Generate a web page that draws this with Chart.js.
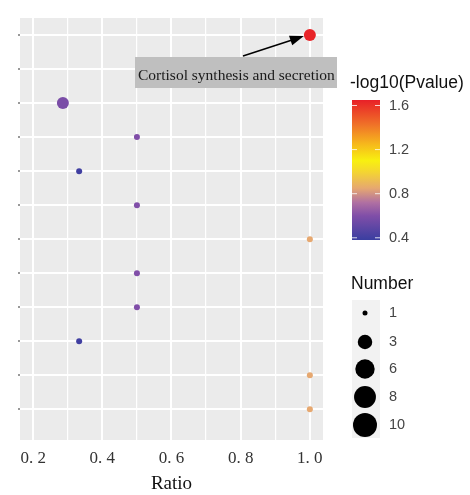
<!DOCTYPE html>
<html>
<head>
<meta charset="utf-8">
<script src="https://cdn.jsdelivr.net/npm/chart.js@4.4.1/dist/chart.umd.min.js"></script>
<style>
  html, body { margin: 0; padding: 0; background: #fff; }
  #wrap { width: 470px; height: 495px; }
</style>
</head>
<body>
<div id="wrap"><canvas id="c"></canvas></div>
<script>
// pathway rows, 1 = top row (row 2 has no visible point, it sits under the label)
const rows   = [1, 3, 4, 5, 6, 7, 8, 9, 10, 11, 12];
const ratio  = [1.0, 0.286, 0.5, 0.333, 0.5, 1.0, 0.5, 0.5, 0.333, 1.0, 1.0];
const logP   = [1.64, 0.58, 0.6, 0.4, 0.6, 0.85, 0.6, 0.6, 0.4, 0.85, 0.85];
const number = [2, 2, 1, 1, 1, 1, 1, 1, 1, 1, 1];

const xTicks = [0.2, 0.4, 0.6, 0.8, 1.0];
const pTicks = [0.4, 0.8, 1.2, 1.6];
const nTicks = [1, 3, 6, 8, 10];
const pTitle = "-log10(Pvalue)";
const nTitle = "Number";
const xTitle = "Ratio";
const note   = "Cortisol synthesis and secretion";
const noteIdx = 0;

// colour bar range and colours
const pMin = 0.38, pMax = 1.65;
const stops = [
  [0.38, [58, 62, 160]],
  [0.60, [128, 78, 168]],
  [0.72, [176, 112, 162]],
  [0.85, [230, 168, 112]],
  [1.00, [244, 214, 48]],
  [1.10, [248, 240, 16]],
  [1.25, [246, 184, 28]],
  [1.42, [240, 116, 40]],
  [1.65, [232, 32, 40]]
];
function pColor(v) {
  if (v <= stops[0][0]) return "rgb(" + stops[0][1] + ")";
  for (let i = 1; i < stops.length; i++) {
    if (v <= stops[i][0]) {
      const a = stops[i-1], b = stops[i];
      const t = (v - a[0]) / (b[0] - a[0]);
      const c = a[1].map((x, k) => Math.round(x + (b[1][k] - x) * t));
      return "rgb(" + c.join(",") + ")";
    }
  }
  return "rgb(" + stops[stops.length-1][1] + ")";
}
function nRadius(n) { return 3 + 9 * Math.sqrt((n - 1) / 9); }

const points = rows.map((r, i) => ({x: ratio[i], y: r}));
const isMajor = v => Math.round(v * 10) % 2 === 0;

// grey panel, annotation and the two legends
const extras = {
  id: "extras",
  beforeDraw(chart) {
    const {ctx, chartArea: a} = chart;
    ctx.save();
    ctx.fillStyle = "#ebebeb";
    ctx.fillRect(a.left, a.top, a.right - a.left, a.bottom - a.top);
    ctx.restore();
  },
  afterDraw(chart) {
    const {ctx, scales} = chart;
    ctx.save();

    // label box + arrow
    const px = scales.x.getPixelForValue(ratio[noteIdx]);
    const py = scales.y.getPixelForValue(rows[noteIdx]);
    ctx.fillStyle = "#bfbfbf";
    ctx.fillRect(135, 57, 202, 31);
    ctx.fillStyle = "#1a1a1a";
    ctx.font = "15.5px 'Liberation Serif'";
    ctx.textBaseline = "middle";
    ctx.textAlign = "left";
    ctx.fillText(note, 138, 76);
    const tx = 243, ty = 56;
    const ang = Math.atan2(py - ty, px - 6 - tx);
    const hx = px - 6, hy = py + 1;
    ctx.strokeStyle = "#000";
    ctx.lineWidth = 1.5;
    ctx.beginPath();
    ctx.moveTo(tx, ty);
    ctx.lineTo(hx - 10 * Math.cos(ang), hy - 10 * Math.sin(ang));
    ctx.stroke();
    ctx.fillStyle = "#000";
    ctx.beginPath();
    ctx.moveTo(hx, hy);
    ctx.lineTo(hx - 14 * Math.cos(ang) + 5 * Math.sin(ang), hy - 14 * Math.sin(ang) - 5 * Math.cos(ang));
    ctx.lineTo(hx - 14 * Math.cos(ang) - 5 * Math.sin(ang), hy - 14 * Math.sin(ang) + 5 * Math.cos(ang));
    ctx.closePath();
    ctx.fill();

    // colour bar
    const bx = 352, bw = 28, bTop = 100, bBot = 240;
    const g = ctx.createLinearGradient(0, bBot, 0, bTop);
    stops.forEach(s => g.addColorStop((s[0] - pMin) / (pMax - pMin), "rgb(" + s[1] + ")"));
    ctx.fillStyle = g;
    ctx.fillRect(bx, bTop, bw, bBot - bTop);
    ctx.fillStyle = "#111";
    ctx.font = "17.5px 'Liberation Sans'";
    ctx.textAlign = "left";
    ctx.textBaseline = "middle";
    ctx.fillText(pTitle, 350, 83);
    ctx.fillStyle = "#444";
    ctx.font = "14.5px 'Liberation Sans'";
    pTicks.forEach(v => {
      const y = bBot - (v - pMin) / (pMax - pMin) * (bBot - bTop);
      ctx.strokeStyle = "rgba(255,255,255,0.8)";
      ctx.lineWidth = 1;
      ctx.beginPath();
      ctx.moveTo(bx, y); ctx.lineTo(bx + 5, y);
      ctx.moveTo(bx + bw - 5, y); ctx.lineTo(bx + bw, y);
      ctx.stroke();
      ctx.fillText(v.toFixed(1), 389, y);
    });

    // size legend
    ctx.fillStyle = "#111";
    ctx.font = "17.5px 'Liberation Sans'";
    ctx.fillText(nTitle, 351, 284);
    ctx.fillStyle = "#f2f2f2";
    ctx.fillRect(352, 300, 28, 138);
    const ny = [313, 342, 369, 397, 425];
    nTicks.forEach((n, i) => {
      ctx.fillStyle = "#000";
      ctx.beginPath();
      ctx.arc(365, ny[i], n === 1 ? 2.5 : nRadius(n), 0, Math.PI * 2);
      ctx.fill();
      ctx.fillStyle = "#444";
      ctx.font = "14.5px 'Liberation Sans'";
      ctx.fillText(String(n), 389, ny[i]);
    });
    ctx.restore();
  }
};

new Chart(document.getElementById("c"), {
  type: "scatter",
  data: {
    datasets: [{
      data: points,
      backgroundColor: logP.map(pColor),
      borderWidth: 0,
      pointRadius: number.map(nRadius),
      pointHoverRadius: number.map(nRadius)
    }]
  },
  options: {
    responsive: true,
    maintainAspectRatio: false,
    animation: false,
    events: [],
    layout: { padding: { left: 0, right: 147, top: 18, bottom: 0 } },
    plugins: { legend: { display: false }, tooltip: { enabled: false } },
    scales: {
      x: {
        type: "linear",
        min: 0.162,
        max: 1.038,
        afterFit: s => { s.height = 55; },
        border: { display: false },
        grid: {
          color: "#ffffff",
          lineWidth: c => (c.tick && isMajor(c.tick.value) ? 2 : 1.2),
          drawTicks: false
        },
        ticks: {
          stepSize: 0.1,
          includeBounds: false,
          autoSkip: false,
          maxRotation: 0,
          padding: 8,
          color: "#333",
          font: { family: "'Liberation Serif'", size: 17 },
          callback: v => (isMajor(v) && xTicks.some(t => Math.abs(t - v) < 1e-6) ? v.toFixed(1).replace(".", ". ") : "")
        },
        title: {
          display: true,
          text: xTitle,
          color: "#111",
          font: { family: "'Liberation Serif'", size: 19 },
          padding: { top: 0, bottom: 0 }
        }
      },
      y: {
        type: "linear",
        reverse: true,
        min: 0.5,
        max: 12.9,
        afterFit: s => { s.width = 20; },
        border: { display: false },
        grid: {
          color: "#ffffff",
          lineWidth: 2,
          tickLength: 2,
          tickColor: "#777",
          tickWidth: 1.5
        },
        ticks: {
          stepSize: 1,
          includeBounds: false,
          autoSkip: false,
          padding: 0,
          callback: () => ""
        }
      }
    }
  },
  plugins: [extras]
});
</script>
</body>
</html>
